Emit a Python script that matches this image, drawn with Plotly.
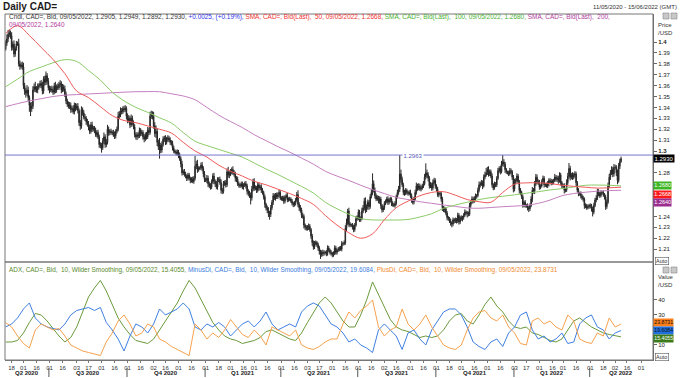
import numpy as np
import pandas as pd
import plotly.graph_objects as go
from plotly.subplots import make_subplots

# ---------------- data ----------------
START = "2020-05-11"          # first trading day shown
OPEN_FIRST = 13935            # first open, price x 1e4
# daily closes, price x 1e4, one row per week (Mon..Fri)
CLOSE = [
    13990, 14030, 14070, 14085, 14060,
    13950, 13980, 13890, 13940, 13985,
    13985, 13800, 13775, 13790, 13770,
    13600, 13550, 13530, 13560, 13490,
    13420, 13390, 13410, 13560, 13590,
    13570, 13560, 13590, 13600, 13620,
    13600, 13550, 13660, 13630, 13690,
    13640, 13580, 13560, 13570, 13560,
    13540, 13600, 13560, 13590, 13580,
    13610, 13620, 13560, 13590, 13570,
    13520, 13460, 13430, 13410, 13420,
    13380, 13390, 13360, 13420, 13395,
    13410, 13370, 13260, 13230, 13380,
    13350, 13310, 13300, 13270, 13250,
    13220, 13180, 13240, 13200, 13210,
    13190, 13150, 13170, 13130, 13060,
    13050, 13030, 13090, 13130, 13060,
    13080, 13200, 13170, 13180, 13170,
    13170, 13150, 13140, 13180, 13200,
    13320, 13340, 13370, 13360, 13390,
    13380, 13390, 13320, 13280, 13300,
    13240, 13300, 13260, 13220, 13150,
    13130, 13150, 13140, 13190, 13160,
    13170, 13130, 13110, 13150, 13130,
    13190, 13170, 13320, 13340, 13320,
    13230, 13160, 13180, 13080, 13040,
    13050, 13010, 13060, 13110, 13120,
    13080, 13110, 13120, 13100, 13080,
    13070, 13030, 13000, 12990, 12980,
    12990, 12960, 12930, 12880, 12800,
    12810, 12790, 12770, 12750, 12780,
    12750, 12730, 12740, 12720, 12750,
    12860, 12880, 12830, 12840, 12845,
    12870, 12840, 12790, 12740, 12730,
    12750, 12700, 12680, 12670, 12720,
    12770, 12720, 12700, 12670, 12740,
    12740, 12710, 12640, 12630, 12700,
    12710, 12690, 12810, 12780, 12790,
    12810, 12830, 12800, 12790, 12750,
    12740, 12700, 12690, 12680, 12700,
    12670, 12690, 12700, 12680, 12630,
    12610, 12600, 12570, 12650, 12720,
    12660, 12660, 12640, 12690, 12660,
    12670, 12640, 12620, 12580, 12510,
    12480, 12460, 12430, 12420, 12480,
    12530, 12590, 12570, 12600, 12580,
    12600, 12620, 12570, 12560, 12570,
    12540, 12580, 12590, 12550, 12560,
    12560, 12540, 12520, 12510, 12520,
    12550, 12600, 12510, 12480, 12460,
    12410, 12400, 12320, 12300, 12290,
    12300, 12310, 12280, 12220, 12160,
    12120, 12150, 12160, 12140, 12110,
    12080, 12050, 12070, 12060, 12070,
    12070, 12060, 12110, 12090, 12070,
    12060, 12050, 12060, 12110, 12070,
    12090, 12100, 12110, 12100, 12150,
    12150, 12160, 12290, 12340, 12450,
    12330, 12320, 12320, 12300, 12280,
    12320, 12380, 12390, 12440, 12370,
    12380, 12450, 12480, 12540, 12460,
    12490, 12530, 12490, 12580, 12620,
    12700, 12640, 12590, 12560, 12570,
    12540, 12560, 12500, 12460, 12480,
    12520, 12540, 12560, 12530, 12550,
    12560, 12520, 12510, 12500, 12520,
    12580, 12620, 12650, 12790, 12740,
    12690, 12620, 12610, 12640, 12620,
    12610, 12620, 12590, 12550, 12530,
    12560, 12620, 12680, 12660, 12680,
    12650, 12660, 12680, 12700, 12760,
    12800, 12780, 12750, 12680, 12690,
    12660, 12710, 12730, 12680, 12650,
    12600, 12610, 12610, 12560, 12480,
    12460, 12470, 12430, 12390, 12380,
    12360, 12340, 12330, 12370, 12360,
    12370, 12360, 12410, 12350, 12390,
    12380, 12390, 12410, 12440, 12430,
    12430, 12420, 12500, 12530, 12560,
    12540, 12560, 12590, 12590, 12640,
    12690, 12700, 12710, 12680, 12760,
    12780, 12800, 12830, 12790, 12810,
    12770, 12690, 12660, 12700, 12690,
    12750, 12820, 12840, 12810, 12880,
    12900, 12880, 12830, 12810, 12800,
    12790, 12820, 12810, 12760, 12650,
    12720, 12730, 12770, 12720, 12640,
    12620, 12580, 12510, 12530, 12500,
    12500, 12480, 12470, 12500, 12560,
    12640, 12630, 12700, 12760, 12720,
    12710, 12670, 12680, 12720, 12750,
    12690, 12690, 12680, 12700, 12730,
    12720, 12710, 12720, 12730, 12760,
    12740, 12750, 12730, 12780, 12710,
    12680, 12680, 12640, 12640, 12710,
    12770, 12840, 12760, 12780, 12760,
    12780, 12790, 12710, 12640, 12610,
    12610, 12590, 12570, 12560, 12500,
    12500, 12480, 12490, 12500, 12500,
    12470, 12440, 12500, 12550, 12570,
    12630, 12610, 12590, 12620, 12620,
    12600, 12580, 12490, 12530, 12680,
    12760, 12800, 12830, 12790, 12850,
    12850, 12800, 12730, 12860, 12905,
    12930,
]
# upper wick above the body, pips
HIGH_EXT = [
    25, 40, 40, 30, 20,  30, 25, 35, 20, 25,  20, 45, 30, 25, 30,  40, 25, 30, 45, 30,
    20, 25, 40, 35, 30,  45, 25, 30, 20, 25,  30, 35, 25, 30, 40,  25, 30, 20, 25, 30,
    30, 25, 35, 20, 30,  25, 30, 20, 25, 20,  30, 25, 20, 25, 30,  25, 20, 30, 25, 20,
    25, 30, 20, 25, 30,  20, 25, 30, 20, 25,  25, 20, 25, 30, 20,  20, 25, 20, 25, 20,
    20, 25, 30, 40, 25,  30, 40, 25, 20, 25,  20, 25, 30, 20, 25,  40, 25, 30, 25, 20,
    25, 30, 20, 25, 30,  20, 35, 25, 20, 25,  20, 25, 20, 25, 20,  25, 20, 25, 20, 25,
    30, 25, 40, 30, 25,  40, 35, 55, 30, 25,  70, 25, 30, 25, 20,  25, 20, 25, 20, 25,
    20, 25, 20, 15, 20,  25, 20, 25, 20, 30,  20, 25, 20, 15, 20,  20, 15, 20, 25, 20,
    95, 30, 40, 20, 15,  25, 30, 20, 25, 15,  30, 25, 20, 25, 20,  25, 30, 20, 25, 20,
    20, 25, 30, 20, 25,  20, 25, 30, 45, 25,  25, 20, 30, 25, 20,  20, 25, 20, 15, 20,
    20, 15, 20, 25, 20,  20, 25, 20, 30, 25,  30, 25, 20, 25, 20,  20, 25, 20, 15, 20,
    15, 20, 25, 20, 25,  20, 25, 20, 15, 20,  20, 25, 20, 15, 20,  20, 15, 20, 25, 15,
    20, 15, 20, 15, 20,  20, 25, 40, 20, 25,  20, 25, 20, 15, 20,  20, 25, 20, 15, 20,
    20, 25, 20, 15, 20,  20, 15, 20, 25, 20,  15, 20, 25, 20, 15,  20, 15, 20, 25, 20,
    15, 20, 15, 20, 25,  15, 20, 30, 40, 20,  30, 20, 15, 20, 25,  20, 25, 20, 25, 20,
    20, 30, 25, 30, 35,  20, 25, 20, 25, 30,  95, 30, 25, 20, 25,  20, 25, 20, 15, 20,
    20, 15, 20, 25, 20,  20, 15, 20, 15, 20,  20, 25, 30, 173, 40, 25, 20, 25, 20, 15,
    15, 20, 25, 20, 15,  20, 25, 30, 20, 25,  20, 25, 20, 25, 30,  87, 30, 25, 20, 25,
    20, 30, 25, 20, 15,  20, 15, 20, 15, 20,  15, 20, 15, 20, 15,  15, 20, 15, 20, 15,
    20, 15, 25, 20, 15,  20, 15, 20, 25, 15,  20, 15, 25, 20, 25,  20, 25, 20, 15, 25,
    30, 20, 25, 20, 25,  30, 45, 25, 30, 20,  20, 25, 15, 20, 15,  20, 25, 20, 25, 30,
    63, 25, 20, 15, 10,  20, 25, 20, 15, 20,  25, 20, 25, 20, 15,  20, 15, 20, 15, 20,
    15, 20, 15, 20, 25,  30, 20, 25, 30, 25,  20, 25, 15, 20, 25,  20, 15, 20, 25, 20,
    20, 25, 20, 15, 30,  20, 25, 20, 25, 20,  15, 20, 25, 20, 30,  30, 50, 25, 20, 25,
    20, 25, 20, 15, 20,  15, 20, 15, 20, 15,  20, 15, 20, 15, 20,  15, 20, 25, 20, 25,
    25, 20, 15, 20, 15,  20, 15, 20, 25, 30,  30, 25, 30, 25, 30,  25, 20, 30, 30, 25,
    19,
]
# lower wick below the body, pips
LOW_EXT = [
    15, 25, 30, 25, 30,  30, 25, 30, 25, 20,  20, 25, 30, 20, 25,  30, 35, 40, 25, 30,
    60, 70, 30, 25, 20,  30, 25, 30, 25, 20,  25, 30, 25, 30, 25,  30, 25, 30, 20, 25,
    25, 20, 30, 25, 20,  20, 25, 30, 20, 25,  25, 30, 25, 20, 25,  30, 25, 20, 25, 30,
    20, 25, 30, 35, 25,  25, 20, 25, 30, 25,  30, 25, 20, 25, 20,  25, 20, 25, 20, 30,
    25, 45, 20, 25, 30,  25, 20, 30, 25, 20,  25, 20, 30, 25, 20,  20, 25, 30, 25, 20,
    25, 20, 30, 25, 20,  30, 20, 25, 20, 25,  25, 30, 25, 20, 25,  20, 25, 30, 20, 25,
    20, 25, 20, 25, 30,  25, 30, 40, 35, 30,  110, 30, 25, 20, 25, 25, 20, 25, 20, 25,
    20, 25, 20, 15, 20,  20, 25, 20, 30, 25,  20, 25, 20, 25, 20,  20, 25, 20, 15, 20,
    20, 25, 30, 20, 15,  20, 25, 30, 25, 15,  25, 30, 20, 25, 20,  20, 25, 30, 20, 25,
    25, 20, 30, 25, 20,  20, 25, 20, 25, 30,  20, 25, 20, 25, 30,  25, 20, 25, 20, 15,
    20, 25, 20, 25, 30,  25, 30, 60, 25, 20,  25, 20, 25, 20, 25,  20, 25, 20, 25, 30,
    25, 30, 35, 50, 25,  20, 25, 20, 25, 20,  20, 25, 20, 15, 20,  25, 20, 15, 20, 15,
    20, 15, 20, 25, 20,  20, 15, 25, 30, 25,  25, 20, 30, 25, 20,  20, 25, 20, 25, 30,
    25, 20, 15, 20, 25,  30, 40, 20, 25, 20,  20, 25, 20, 15, 20,  20, 25, 20, 15, 20,
    20, 15, 20, 15, 20,  20, 15, 20, 25, 20,  25, 20, 15, 20, 25,  20, 15, 20, 25, 20,
    20, 15, 20, 25, 30,  20, 25, 30, 20, 15,  25, 20, 25, 20, 15,  20, 25, 30, 25, 20,
    20, 15, 20, 25, 20,  20, 25, 20, 15, 20,  20, 15, 20, 25, 30,  20, 25, 20, 15, 20,
    20, 15, 20, 25, 20,  20, 15, 20, 25, 20,  15, 20, 15, 20, 15,  20, 25, 30, 25, 20,
    25, 20, 15, 25, 20,  20, 25, 20, 25, 30,  20, 25, 20, 25, 20,  20, 25, 30, 20, 25,
    20, 25, 20, 25, 20,  20, 25, 20, 15, 20,  40, 20, 15, 20, 15,  20, 15, 20, 25, 15,
    20, 25, 20, 30, 15,  20, 15, 20, 25, 20,  20, 25, 20, 15, 20,  20, 15, 20, 25, 15,
    20, 25, 30, 20, 15,  20, 15, 20, 25, 30,  20, 25, 20, 25, 30,  25, 20, 30, 25, 20,
    20, 25, 30, 20, 15,  30, 20, 25, 20, 25,  20, 25, 20, 15, 20,  25, 20, 15, 20, 25,
    20, 25, 20, 25, 15,  20, 25, 30, 20, 25,  20, 25, 30, 20, 15,  20, 25, 30, 20, 25,
    20, 25, 30, 20, 25,  20, 25, 20, 25, 30,  25, 20, 15, 20, 25,  25, 40, 20, 15, 20,
    20, 25, 20, 15, 20,  20, 25, 30, 20, 15,  20, 25, 20, 30, 25,  20, 30, 35, 20, 25,
    13,
]

# moving averages: one value every 10 trading days from START
SMA50 = [1.4079, 1.4150, 1.4060, 1.3950, 1.3840, 1.3710, 1.3550, 1.3490, 1.3407, 1.3325,
         1.3280, 1.3260, 1.3230, 1.3200, 1.3165, 1.3080, 1.3000, 1.2945, 1.2870, 1.2815,
         1.2770, 1.2722, 1.2690, 1.2650, 1.2610, 1.2565, 1.2510, 1.2410, 1.2320, 1.2250,
         1.2200, 1.2240, 1.2370, 1.2480, 1.2540, 1.2590, 1.2620, 1.2627, 1.2595, 1.2555,
         1.2535, 1.2530, 1.2620, 1.2695, 1.2708, 1.2708, 1.2702, 1.2686, 1.2676, 1.2668,
         1.2660, 1.2663, 1.2668]
SMA100 = [1.3590, 1.3660, 1.3730, 1.3770, 1.3810, 1.3838, 1.3822, 1.3738, 1.3651, 1.3540,
          1.3460, 1.3400, 1.3355, 1.3305, 1.3257, 1.3170, 1.3090, 1.3050, 1.3015, 1.2980,
          1.2944, 1.2890, 1.2835, 1.2785, 1.2730, 1.2675, 1.2615, 1.2530, 1.2470, 1.2420,
          1.2380, 1.2368, 1.2367, 1.2367, 1.2372, 1.2395, 1.2425, 1.2474, 1.2505, 1.2530,
          1.2555, 1.2573, 1.2585, 1.2598, 1.2613, 1.2627, 1.2643, 1.2655, 1.2670, 1.2686,
          1.2688, 1.2686, 1.2680]
SMA200 = [1.3407, 1.3435, 1.3460, 1.3480, 1.3500, 1.3512, 1.3518, 1.3524, 1.3529, 1.3535,
          1.3540, 1.3544, 1.3545, 1.3544, 1.3525, 1.3505, 1.3470, 1.3400, 1.3330, 1.3270,
          1.3215, 1.3150, 1.3095, 1.3040, 1.2990, 1.2935, 1.2880, 1.2815, 1.2770, 1.2730,
          1.2686, 1.2645, 1.2610, 1.2575, 1.2555, 1.2535, 1.2520, 1.2505, 1.2492, 1.2478,
          1.2475, 1.2482, 1.2489, 1.2495, 1.2502, 1.2520, 1.2550, 1.2590, 1.2610, 1.2622,
          1.2632, 1.2637, 1.2640]
# ADX(10) set: one value every 5 trading days from START
ADX = [12, 12, 13, 18, 25, 31, 30, 26, 21, 16,
       12, 15, 22, 32, 42, 48, 53, 46, 37, 28,
       22, 17, 13, 12, 11, 14, 20, 26, 32, 38,
       46, 53, 48, 40, 32, 25, 20, 16, 14, 13,
       11, 12, 13, 15, 19, 20, 18, 16, 14, 13,
       18, 25, 32, 38, 42, 38, 32, 26, 22, 22,
       30, 40, 52, 44, 35, 27, 22, 20, 19, 17,
       15, 16, 15, 16, 20, 26, 30, 31, 26, 24,
       30, 37, 42, 36, 32, 26, 22, 21, 22, 18,
       17, 15, 13, 12, 14, 20, 26, 28, 25, 22,
       20, 18, 17, 16, 15.4055]
MINUS_DI = [22, 24, 28, 34, 38, 28, 24, 22, 21, 20,
            24, 30, 33, 34, 35, 33, 35, 25, 20, 14,
            6, 16, 24, 22, 18, 24, 34, 30, 32, 34,
            38, 34, 22, 20, 24, 22, 25, 22, 16, 20,
            24, 26, 22, 26, 32, 24, 20, 22, 24, 22,
            32, 36, 38, 36, 30, 24, 22, 18, 12, 14,
            10, 8, 5, 20, 24, 20, 16, 7, 18, 20,
            14, 10, 20, 26, 32, 34, 34, 30, 22, 12,
            9, 7, 12, 14, 9, 18, 22, 30, 32, 20,
            14, 16, 12, 14, 18, 11, 12, 24, 28, 30,
            22, 20, 14, 18, 19.6084]
PLUS_DI = [25, 22, 16, 11, 8, 20, 24, 22, 20, 21,
           16, 10, 8, 6, 5, 4, 3, 12, 18, 26,
           30, 24, 16, 18, 24, 22, 14, 12, 9, 7,
           5, 3, 24, 20, 14, 18, 15, 20, 27, 22,
           17, 15, 20, 16, 10, 22, 20, 18, 16, 20,
           10, 8, 7, 9, 12, 14, 14, 24, 32, 28,
           33, 36, 40, 22, 16, 20, 22, 34, 24, 20,
           24, 30, 22, 16, 10, 8, 7, 10, 20, 28,
           32, 33, 28, 26, 30, 22, 18, 11, 10, 26,
           28, 24, 26, 22, 20, 30, 26, 14, 12, 11,
           18, 16, 28, 22, 23.8731]
RES_LEVEL = 1.2963
PRICE_TICKS = [1.21, 1.22, 1.23, 1.24, 1.25, 1.26, 1.27, 1.28, 1.29, 1.30,
               1.31, 1.32, 1.33, 1.34, 1.35, 1.36, 1.37, 1.38, 1.39, 1.40]
PRICE_TICKS_HIDDEN = [1.25, 1.26, 1.27, 1.29]   # labels covered by the value tags
VALUE_TICKS = [10, 20, 30, 40]
VALUE_TICKS_HIDDEN = [20]
TICK_DATES = ["2020-05-18", "2020-06-01", "2020-06-16", "2020-07-01", "2020-07-16", "2020-08-03",
              "2020-08-17", "2020-09-01", "2020-09-16", "2020-10-01", "2020-10-16", "2020-11-02",
              "2020-11-16", "2020-12-01", "2020-12-16", "2021-01-01", "2021-01-18", "2021-02-01",
              "2021-02-16", "2021-03-01", "2021-03-16", "2021-04-01", "2021-04-16", "2021-05-03",
              "2021-05-17", "2021-06-01", "2021-06-16", "2021-07-01", "2021-07-16", "2021-08-02",
              "2021-08-16", "2021-09-01", "2021-09-16", "2021-10-01", "2021-10-18", "2021-11-01",
              "2021-11-16", "2021-12-01", "2021-12-16", "2022-01-03", "2022-01-17", "2022-02-01",
              "2022-02-16", "2022-03-01", "2022-03-16", "2022-04-01", "2022-04-18", "2022-05-02",
              "2022-05-16", "2022-06-01"]
QUARTER_STARTS = ["2020-07-01", "2020-10-01", "2021-01-01", "2021-04-01", "2021-07-01",
                  "2021-10-01", "2022-01-03", "2022-04-01"]
QUARTER_LABELS = ["Q2 2020", "Q3 2020", "Q4 2020", "Q1 2021", "Q2 2021", "Q3 2021",
                  "Q4 2021", "Q1 2022", "Q2 2022"]
END_DATE = "2022-06-15"

# ---------------- build series ----------------
c = np.array(CLOSE) / 1e4
o = np.r_[OPEN_FIRST / 1e4, c[:-1]]
h = np.maximum(o, c) + np.array(HIGH_EXT) / 1e4
l = np.minimum(o, c) - np.array(LOW_EXT) / 1e4
n = len(c)
xi = np.arange(n)
sx = np.minimum(np.arange(0, 10 * len(SMA50), 10), n - 1)
ax_ = np.minimum(np.arange(0, 5 * len(ADX), 5), n - 1)

all_days = pd.bdate_range(START, "2022-07-29")
def pos(d):
    return all_days.get_loc(pd.Timestamp(d))
end_pos = pos(END_DATE)
X0, X1 = -0.6, end_pos

# ---------------- geometry ----------------
W, H = 680, 378
ML, MR, MT, MB = 5, 27, 14, 18
PW, PH = W - ML - MR, H - MT - MB
def pxx(p):
    return (p - ML) / PW
def pxy(p):
    return 1 - (p - MT) / PH
SPLIT = pxy(262)

FONT = "Arial, Liberation Sans, Helvetica, sans-serif"
C_RED, C_GREEN, C_PURPLE = "#f05a5a", "#8ccc68", "#c580c0"
C_ADX, C_MDI, C_PDI = "#6b9a3c", "#3f80e0", "#f6a24e"

fig = make_subplots(rows=2, cols=1, shared_xaxes=True, vertical_spacing=0)

fig.add_trace(go.Scatter(x=sx, y=SMA200, mode="lines", line=dict(color=C_PURPLE, width=1, shape="spline"),
                         hoverinfo="skip", showlegend=False), row=1, col=1)
fig.add_trace(go.Scatter(x=sx, y=SMA100, mode="lines", line=dict(color=C_GREEN, width=1, shape="spline"),
                         hoverinfo="skip", showlegend=False), row=1, col=1)
fig.add_trace(go.Scatter(x=sx, y=SMA50, mode="lines", line=dict(color=C_RED, width=1, shape="spline"),
                         hoverinfo="skip", showlegend=False), row=1, col=1)
fig.add_trace(go.Candlestick(x=xi, open=o, high=h, low=l, close=c, whiskerwidth=0,
                             increasing=dict(line=dict(color="#262626", width=1), fillcolor="#7a7a7a"),
                             decreasing=dict(line=dict(color="#262626", width=1), fillcolor="#262626"),
                             hoverinfo="skip", showlegend=False), row=1, col=1)

fig.add_trace(go.Scatter(x=ax_, y=ADX, mode="lines", line=dict(color=C_ADX, width=1),
                         hoverinfo="skip", showlegend=False), row=2, col=1)
fig.add_trace(go.Scatter(x=ax_, y=MINUS_DI, mode="lines", line=dict(color=C_MDI, width=1),
                         hoverinfo="skip", showlegend=False), row=2, col=1)
fig.add_trace(go.Scatter(x=ax_, y=PLUS_DI, mode="lines", line=dict(color=C_PDI, width=1),
                         hoverinfo="skip", showlegend=False), row=2, col=1)

def _plab(v):
    if any(abs(v - hv) < 1e-9 for hv in PRICE_TICKS_HIDDEN):
        return ""
    return ("<b>%.1f</b>" % v) if round(v * 100) % 10 == 0 else "%.2f" % v
ptext = [_plab(v) for v in PRICE_TICKS]
vtext = ["" if v in VALUE_TICKS_HIDDEN else str(v) for v in VALUE_TICKS]

fig.update_layout(
    width=W, height=H, margin=dict(l=ML, r=MR, t=MT, b=MB),
    paper_bgcolor="white", plot_bgcolor="white",
    font=dict(family=FONT, size=6, color="#222"),
    xaxis=dict(range=[X0, X1], showticklabels=False, showgrid=False, zeroline=False,
               rangeslider=dict(visible=False), showline=False, ticks=""),
    xaxis2=dict(range=[X0, X1], showgrid=False, zeroline=False, showline=True, linecolor="#777",
                tickvals=[pos(d) for d in TICK_DATES], ticktext=[d[-2:] for d in TICK_DATES],
                ticks="outside", ticklen=2, tickcolor="#777", tickfont=dict(size=6, color="#333")),
    yaxis=dict(domain=[SPLIT, 1], range=[1.1982, 1.4257], side="right", showgrid=False, zeroline=False,
               showline=True, linecolor="#666", ticks="outside", ticklen=3, tickcolor="#666",
               tickvals=PRICE_TICKS, ticktext=ptext, tickfont=dict(size=6, color="#222")),
    yaxis2=dict(domain=[0, SPLIT], range=[0, 65.3], side="right", showgrid=False, zeroline=False,
                showline=True, linecolor="#666", ticks="outside", ticklen=3, tickcolor="#666",
                tickvals=VALUE_TICKS, ticktext=vtext, tickfont=dict(size=6, color="#222")),
)

shapes = []
shapes.append(dict(type="rect", xref="paper", yref="paper", x0=0, x1=1, y0=SPLIT, y1=1,
                   line=dict(color="#777", width=1)))
shapes.append(dict(type="rect", xref="paper", yref="paper", x0=0, x1=1, y0=0, y1=SPLIT,
                   line=dict(color="#777", width=1)))
shapes.append(dict(type="line", xref="paper", yref="y", x0=0, x1=1, y0=RES_LEVEL, y1=RES_LEVEL,
                   line=dict(color="#7373d0", width=1)))
for d in QUARTER_STARTS:
    xp = pos(d) - 0.5
    shapes.append(dict(type="line", xref="x2", yref="paper", x0=xp, x1=xp, y0=pxy(368), y1=pxy(377),
                       line=dict(color="#555", width=1)))
for (x0, yc) in [(663, 16), (671, 16), (663, 270), (671, 270)]:
    shapes.append(dict(type="rect", xref="paper", yref="paper", x0=pxx(x0), x1=pxx(x0 + 6),
                       y0=pxy(yc + 3), y1=pxy(yc - 3), line=dict(color="#888", width=0.6),
                       fillcolor="#c8c8c8"))
fig.update_layout(shapes=shapes)

ann = []
def A(text, x, y, size=6, color="#222", xanchor="left", yanchor="middle", **kw):
    ann.append(dict(text=text, xref="paper", yref="paper", x=pxx(x), y=pxy(y), showarrow=False,
                    xanchor=xanchor, yanchor=yanchor, font=dict(family=FONT, size=size, color=color), **kw))

A("<b>Daily CAD=</b>", 1, 6, size=10, color="#1a1a1a")
A("11/05/2020 - 15/06/2022 (GMT)", 679, 7, size=6, color="#333", xanchor="right")

leg1 = ("Cndl, CAD=, Bid, 09/05/2022, 1.2905, 1.2949, 1.2892, 1.2930, "
        "<span style='color:#3030f0'>+0.0025, (+0.19%), </span>"
        "<span style='color:#f03030'>SMA, CAD=, Bid(Last),  50, 09/05/2022, 1.2668, </span>"
        "<span style='color:#48b030'>SMA, CAD=, Bid(Last),  100, 09/05/2022, 1.2680, </span>"
        "<span style='color:#b03a9c'>SMA, CAD=, Bid(Last),  200, </span>")
A(leg1, 7, 17, size=6.45, color="#333")
A("09/05/2022, 1.2640", 7, 25, size=6.45, color="#b03a9c")
leg2 = ("<span style='color:#5a8a2e'>ADX, CAD=, Bid,  10, Wilder Smoothing, 09/05/2022, 15.4055, </span>"
        "<span style='color:#3b7ddd'>MinusDi, CAD=, Bid,  10, Wilder Smoothing, 09/05/2022, 19.6084, </span>"
        "<span style='color:#f08a30'>PlusDi, CAD=, Bid,  10, Wilder Smoothing, 09/05/2022, 23.8731</span>")
A(leg2, 7, 270, size=6.4)

A("Price", 656, 25, size=6, color="#333")
A("/USD", 656, 33, size=6, color="#333")
A("Value", 656, 277, size=6, color="#333")
A("/USD", 656, 285, size=6, color="#333")
A("Auto", 655, 261, size=5.5, color="#333", bordercolor="#555", borderwidth=0.6, borderpad=0.5, bgcolor="white")
A("Auto", 655, 357, size=5.5, color="#333", bordercolor="#555", borderwidth=0.6, borderpad=0.5, bgcolor="white")

ann.append(dict(text="1.2930", xref="paper", yref="y", x=pxx(653), y=1.2930, showarrow=False,
                xanchor="left", yanchor="middle", bgcolor="#000000", borderpad=0.5,
                font=dict(family=FONT, size=6, color="white")))
A("1.2680", 653, 185.5, size=5.5, color="white", bgcolor="#3cb521", borderpad=0.3)
A("1.2668", 653, 194, size=5.5, color="white", bgcolor="#ff1a1a", borderpad=0.3)
A("1.2640", 653, 202.5, size=5.5, color="white", bgcolor="#9b2d8f", borderpad=0.3)
A("23.8731", 653, 322, size=5.2, color="#111", bgcolor="#ff7f1a", borderpad=0.3)
A("19.6084", 653, 330, size=5.2, color="#111", bgcolor="#1f6fe0", borderpad=0.3)
A("15.4055", 653, 338, size=5.2, color="white", bgcolor="#3a7a1a", borderpad=0.3)

ann.append(dict(text="1.2963", xref="paper", yref="y", x=pxx(413), y=RES_LEVEL, showarrow=False,
                xanchor="center", yanchor="middle", bgcolor="white", borderpad=0.5,
                font=dict(family=FONT, size=6, color="#5656b8")))

qb = [X0] + [pos(d) - 0.5 for d in QUARTER_STARTS] + [X1]
for i, q in enumerate(QUARTER_LABELS):
    ann.append(dict(text="<b>%s</b>" % q, xref="x2", yref="paper", x=(qb[i] + qb[i + 1]) / 2, y=pxy(373),
                    showarrow=False, xanchor="center", yanchor="middle",
                    font=dict(family=FONT, size=6, color="#222")))
fig.update_layout(annotations=ann)

fig.write_html("out.html", config={"displayModeBar": False},
               post_script="document.body.style.margin='0';document.body.style.overflow='hidden';")
